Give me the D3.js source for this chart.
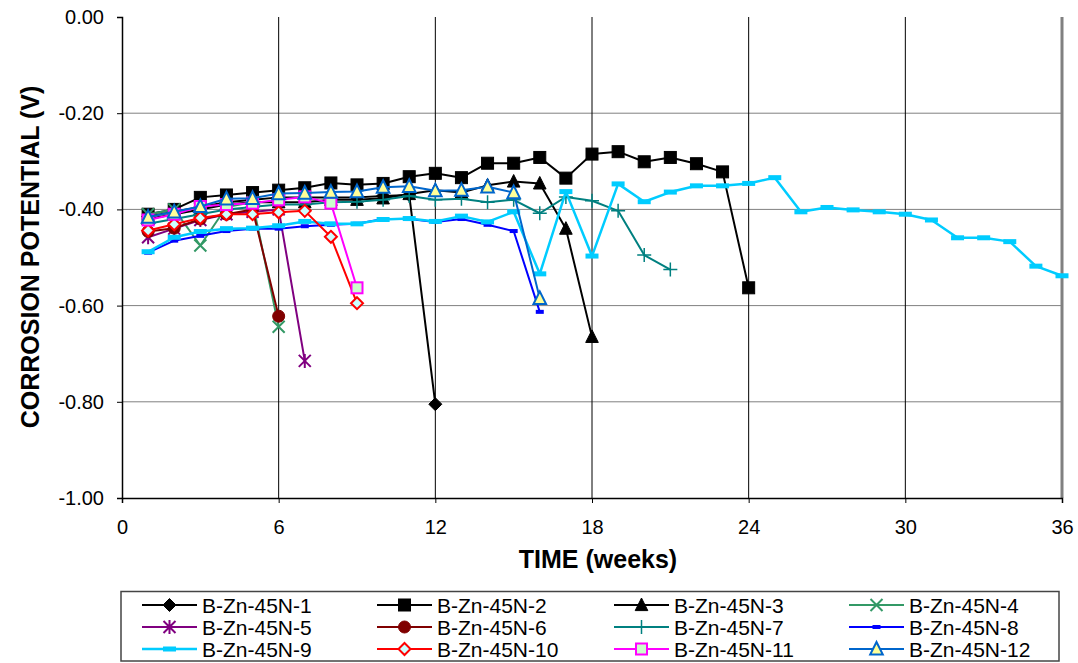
<!DOCTYPE html>
<html>
<head>
<meta charset="utf-8">
<script src="https://cdn.jsdelivr.net/npm/d3@7"></script>
<style>
  body { margin: 0; background: #fff; }
  svg { display: block; font-family: Arial, "Liberation Sans", sans-serif; }
</style>
</head>
<body>
<div id="chart"></div>
<script>
// weekly readings, all series start at week 1
const s1 = [-0.415, -0.405, -0.395, -0.385, -0.38, -0.375, -0.375, -0.375, -0.375, -0.372, -0.37, -0.805];
const s2 = [-0.41, -0.40, -0.375, -0.37, -0.365, -0.36, -0.355, -0.345, -0.349, -0.346, -0.332, -0.325, -0.334, -0.304, -0.304, -0.292, -0.335, -0.285, -0.28, -0.301, -0.292, -0.305, -0.322, -0.563];
const s3 = [-0.42, -0.41, -0.40, -0.39, -0.385, -0.385, -0.385, -0.38, -0.38, -0.377, -0.368, -0.36, -0.365, -0.35, -0.342, -0.346, -0.44, -0.665];
const s4 = [-0.41, -0.40, -0.475, -0.395, -0.385, -0.644];
const s5 = [-0.458, -0.44, -0.422, -0.41, -0.405, -0.40, -0.715];
const s6 = [-0.446, -0.439, -0.42, -0.41, -0.40, -0.622];
const s7 = [-0.43, -0.42, -0.41, -0.40, -0.395, -0.39, -0.39, -0.385, -0.384, -0.38, -0.372, -0.38, -0.378, -0.385, -0.38, -0.408, -0.374, -0.382, -0.403, -0.495, -0.525];
const s8 = [-0.49, -0.465, -0.455, -0.445, -0.44, -0.44, -0.435, -0.432, -0.43, -0.42, -0.42, -0.426, -0.42, -0.432, -0.445, -0.613];
const s9 = [-0.488, -0.458, -0.446, -0.44, -0.439, -0.434, -0.425, -0.43, -0.43, -0.421, -0.419, -0.425, -0.414, -0.426, -0.405, -0.534, -0.363, -0.497, -0.347, -0.384, -0.364, -0.351, -0.351, -0.346, -0.334, -0.405, -0.396, -0.401, -0.405, -0.41, -0.422, -0.459, -0.459, -0.467, -0.518, -0.538];
const s10 = [-0.444, -0.431, -0.418, -0.41, -0.41, -0.406, -0.403, -0.457, -0.595];
const s11 = [-0.422, -0.41, -0.394, -0.39, -0.387, -0.38, -0.374, -0.387, -0.563];
const s12 = [-0.416, -0.405, -0.394, -0.378, -0.377, -0.367, -0.366, -0.364, -0.363, -0.354, -0.352, -0.361, -0.36, -0.353, -0.365, -0.585];

const seriesNames = ['B-Zn-45N-1', 'B-Zn-45N-2', 'B-Zn-45N-3', 'B-Zn-45N-4', 'B-Zn-45N-5', 'B-Zn-45N-6',
  'B-Zn-45N-7', 'B-Zn-45N-8', 'B-Zn-45N-9', 'B-Zn-45N-10', 'B-Zn-45N-11', 'B-Zn-45N-12'];
const seriesValues = [s1, s2, s3, s4, s5, s6, s7, s8, s9, s10, s11, s12];
const xTicks = [0, 6, 12, 18, 24, 30, 36];
const yTicks = [0, -0.2, -0.4, -0.6, -0.8, -1.0];

const styles = [
  { color: '#000000', marker: 'diamond', fill: '#000000' },
  { color: '#000000', marker: 'square', fill: '#000000' },
  { color: '#000000', marker: 'triangle', fill: '#000000' },
  { color: '#339966', marker: 'x' },
  { color: '#800080', marker: 'star' },
  { color: '#800000', marker: 'circle', fill: '#800000' },
  { color: '#008080', marker: 'plus' },
  { color: '#0000FF', marker: 'dash', w: 8, h: 4 },
  { color: '#00CCFF', marker: 'dash', w: 13, h: 5 },
  { color: '#FF0000', marker: 'diamond', fill: '#CCFFFF', open: true },
  { color: '#FF00FF', marker: 'square', fill: '#CCFFCC', open: true },
  { color: '#0066CC', marker: 'triangle', fill: '#FFFF99', open: true }
];

const width = 1078, height = 663;
const plot = { left: 122, top: 17, right: 1062, bottom: 498 };

const svg = d3.select('#chart').append('svg')
  .attr('width', width)
  .attr('height', height);

const x = d3.scaleLinear().domain([0, 36]).range([plot.left, plot.right]);
const y = d3.scaleLinear().domain([-1, 0]).range([plot.bottom, plot.top]);

// gridlines
svg.append('g')
  .selectAll('line')
  .data(yTicks.filter(d => d > -1 && d < 0))
  .join('line')
  .attr('x1', plot.left).attr('x2', plot.right)
  .attr('y1', d => y(d)).attr('y2', d => y(d))
  .attr('stroke', '#808080').attr('stroke-width', 1);

svg.append('g')
  .selectAll('line')
  .data(xTicks.filter(d => d > 0 && d < 36))
  .join('line')
  .attr('x1', d => x(d)).attr('x2', d => x(d))
  .attr('y1', plot.top).attr('y2', plot.bottom)
  .attr('stroke', '#000').attr('stroke-width', 1);

// right edge of plot area
svg.append('line')
  .attr('x1', plot.right).attr('x2', plot.right)
  .attr('y1', plot.top).attr('y2', plot.bottom)
  .attr('stroke', '#808080').attr('stroke-width', 3);

// axes
const yAxis = svg.append('g')
  .attr('transform', `translate(${plot.left},0)`)
  .call(d3.axisLeft(y).tickValues(yTicks).tickSize(5).tickPadding(13).tickFormat(d => d.toFixed(2)));
const xAxis = svg.append('g')
  .attr('transform', `translate(0,${plot.bottom})`)
  .call(d3.axisBottom(x).tickValues(xTicks).tickSize(5).tickPadding(17).tickFormat(d => d));

[xAxis, yAxis].forEach(g => {
  g.selectAll('.domain').attr('stroke', '#000').attr('stroke-width', 1.5);
  g.selectAll('.tick line').attr('stroke', '#000');
  g.selectAll('text').attr('font-size', 20).attr('fill', '#000')
    .attr('font-family', 'Arial, "Liberation Sans", sans-serif');
});

svg.append('text')
  .attr('x', 598)
  .attr('y', 568)
  .attr('text-anchor', 'middle')
  .attr('font-size', 25).attr('font-weight', 'bold')
  .text('TIME (weeks)');

svg.append('text')
  .attr('transform', `translate(39,257) rotate(-90)`)
  .attr('text-anchor', 'middle')
  .attr('font-size', 25).attr('font-weight', 'bold')
  .text('CORROSION POTENTIAL (V)');

const drawMarker = (g, st, cx, cy) => {
  const c = st.color;
  switch (st.marker) {
    case 'diamond': {
      const r = st.open ? 6 : 6.5;
      g.append('path')
        .attr('d', `M${cx},${cy - r}L${cx + r},${cy}L${cx},${cy + r}L${cx - r},${cy}Z`)
        .attr('fill', st.fill).attr('stroke', c).attr('stroke-width', st.open ? 2 : 1);
      break;
    }
    case 'square': {
      const r = st.open ? 5.5 : 6;
      g.append('rect')
        .attr('x', cx - r).attr('y', cy - r).attr('width', 2 * r).attr('height', 2 * r)
        .attr('fill', st.fill).attr('stroke', c).attr('stroke-width', st.open ? 2 : 1);
      break;
    }
    case 'triangle': {
      const r = 7;
      g.append('path')
        .attr('d', `M${cx},${cy - r}L${cx + r * 0.9},${cy + r * 0.8}L${cx - r * 0.9},${cy + r * 0.8}Z`)
        .attr('fill', st.fill).attr('stroke', c).attr('stroke-width', st.open ? 2 : 1);
      break;
    }
    case 'circle':
      g.append('circle').attr('cx', cx).attr('cy', cy).attr('r', 6)
        .attr('fill', st.fill).attr('stroke', c);
      break;
    case 'x': {
      const r = 6;
      g.append('path')
        .attr('d', `M${cx - r},${cy - r}L${cx + r},${cy + r}M${cx - r},${cy + r}L${cx + r},${cy - r}`)
        .attr('stroke', c).attr('stroke-width', 2).attr('fill', 'none');
      break;
    }
    case 'star': {
      const r = 6;
      g.append('path')
        .attr('d', `M${cx - r},${cy - r}L${cx + r},${cy + r}M${cx - r},${cy + r}L${cx + r},${cy - r}M${cx},${cy - r - 1}L${cx},${cy + r + 1}`)
        .attr('stroke', c).attr('stroke-width', 2).attr('fill', 'none');
      break;
    }
    case 'plus': {
      const r = 7;
      g.append('path')
        .attr('d', `M${cx - r},${cy}L${cx + r},${cy}M${cx},${cy - r}L${cx},${cy + r}`)
        .attr('stroke', c).attr('stroke-width', 1.5).attr('fill', 'none');
      break;
    }
    case 'dash':
      g.append('rect')
        .attr('x', cx - st.w / 2).attr('y', cy - st.h / 2)
        .attr('width', st.w).attr('height', st.h)
        .attr('fill', c);
      break;
  }
};

const line = d3.line().x(d => x(d.week)).y(d => y(d.v));

seriesValues.forEach((vals, i) => {
  const st = styles[i];
  const pts = vals.map((v, j) => ({ week: j + 1, v }));
  const g = svg.append('g');
  g.append('path')
    .datum(pts)
    .attr('d', line)
    .attr('fill', 'none')
    .attr('stroke', st.color)
    .attr('stroke-width', i === 8 ? 2.5 : 2)
    .attr('stroke-linejoin', 'round');
  pts.forEach(p => drawMarker(g, st, x(p.week), y(p.v)));
});

// legend
const legend = svg.append('g');
legend.append('rect')
  .attr('x', 121).attr('y', 591.5)
  .attr('width', 938).attr('height', 69.5)
  .attr('fill', '#fff').attr('stroke', '#444').attr('stroke-width', 1.5);

const colX = [142, 377, 614, 849];
const rowY = [605, 627, 649];
seriesNames.forEach((name, i) => {
  const cx = colX[i % 4], cy = rowY[Math.floor(i / 4)];
  const st = styles[i];
  const g = legend.append('g');
  g.append('line')
    .attr('x1', cx).attr('x2', cx + 55)
    .attr('y1', cy).attr('y2', cy)
    .attr('stroke', st.color).attr('stroke-width', i === 8 ? 2.5 : 2);
  drawMarker(g, st, cx + 27.5, cy);
  g.append('text')
    .attr('x', cx + 60).attr('y', cy + 7.5)
    .attr('font-size', 21)
    .text(name);
});
</script>
</body>
</html>
